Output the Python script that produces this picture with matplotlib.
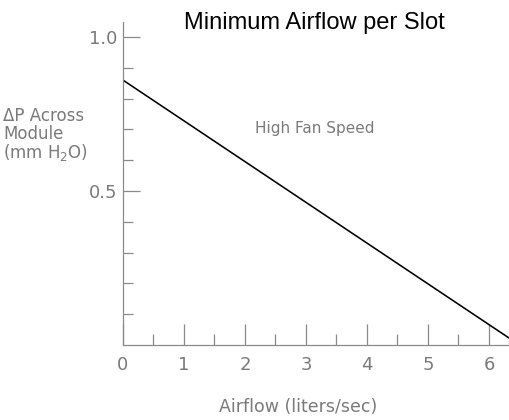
import matplotlib
matplotlib.use("Agg")
import matplotlib.pyplot as plt
from matplotlib.ticker import FixedLocator

# Data
airflow = [0.0, 6.5]          # liters/sec
pressure = [0.86, 0.0]        # mm H2O
x_major = [0, 1, 2, 3, 4, 5, 6]
x_labels = ["0", "1", "2", "3", "4", "5", "6"]
x_minor = [0.5, 1.5, 2.5, 3.5, 4.5, 5.5]
y_major = [0.5, 1.0]
y_labels = ["0.5", "1.0"]
y_minor = [0.1, 0.2, 0.3, 0.4, 0.6, 0.7, 0.8, 0.9]

title = "Minimum Airflow per Slot"
xlabel = "Airflow (liters/sec)"
ylabel = "ΔP Across\nModule\n(mm H$_2$O)"
annotation = "High Fan Speed"

GRAY = "#8a8a8a"
TXT = "#7a7a7a"

fig = plt.figure(figsize=(5.1, 4.2), dpi=100)
ax = fig.add_axes([123/510, 1 - 345/420, 1 - 123/510, (345 - 22)/420])

ax.plot(airflow, pressure, color="black", lw=1.15, clip_on=True)
ax.set_xlim(0, (510 - 123)/61)
ax.set_ylim(0, (345 - 22)/308)

for s in ["top", "right"]:
    ax.spines[s].set_visible(False)
for s in ["left", "bottom"]:
    ax.spines[s].set_color(GRAY)
    ax.spines[s].set_linewidth(0.9)

ax.xaxis.set_major_locator(FixedLocator(x_major))
ax.set_xticklabels(x_labels)
ax.xaxis.set_minor_locator(FixedLocator(x_minor))
ax.yaxis.set_major_locator(FixedLocator(y_major))
ax.set_yticklabels(y_labels)
ax.yaxis.set_minor_locator(FixedLocator(y_minor))

ax.tick_params(axis="x", which="major", direction="in", length=15, width=0.9,
               color=GRAY, labelcolor=TXT, labelsize=13, pad=8)
ax.tick_params(axis="x", which="minor", direction="in", length=8, width=0.9, color=GRAY)
ax.tick_params(axis="y", which="major", direction="in", length=12, width=0.9,
               color=GRAY, labelcolor=TXT, labelsize=13, pad=4)
ax.tick_params(axis="y", which="minor", direction="in", length=7, width=0.9, color=GRAY)

# dark ticks at 1.0 and 6
ax.yaxis.get_major_ticks()[1].tick1line.set_color("#222222")
ax.xaxis.get_major_ticks()[6].tick1line.set_color("#222222")

fig.text(314/510, 1 - 23/420, title, ha="center", va="center",
         fontsize=17, family="Liberation Sans", color="black")
fig.text(3/510, 1 - 135/420, ylabel, ha="left", va="center",
         fontsize=12, color=TXT, linespacing=0.95)
fig.text(298/510, 1 - 407/420, xlabel, ha="center", va="center",
         fontsize=12.5, color=TXT)
fig.text(255/510, 1 - 128/420, annotation, ha="left", va="center",
         fontsize=11, color=TXT)

fig.savefig("out.png", dpi=100)
